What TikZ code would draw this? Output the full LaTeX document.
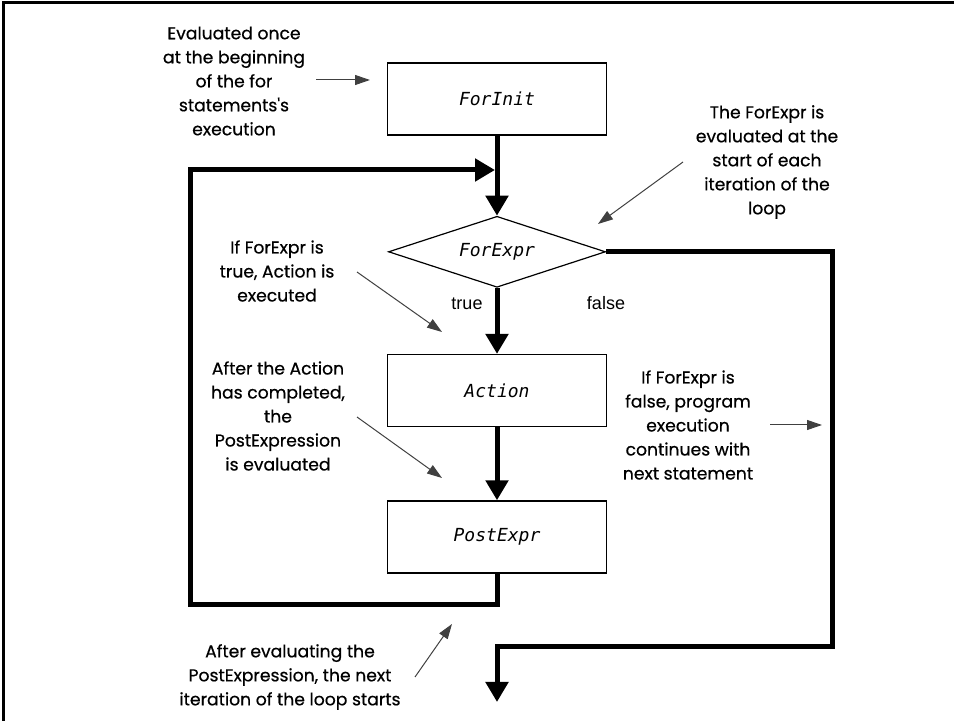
\documentclass[tikz,border=0pt]{standalone}
\usepackage{fontspec}
\usepackage{tikz}
\usetikzlibrary{positioning,arrows.meta,shapes.geometric,calc}
\newfontfamily\notefont{Poppins}[UprightFeatures={FakeBold=0.6}]
\newfontfamily\codefont{DejaVu Sans Mono}
\newfontfamily\labelfont{Liberation Sans}
\definecolor{notegray}{RGB}{64,64,64}

\begin{document}
\begin{tikzpicture}[x=0.5pt, y=-0.5pt,
  stage/.style={draw=black, line width=0.7pt, minimum width=109.5pt,
                minimum height=36pt, inner sep=0pt, font=\codefont\itshape\fontsize{9}{11}\selectfont},
  test/.style={diamond, draw=black, line width=0.6pt, aspect=3, minimum width=108.5pt,
               minimum height=35.5pt, inner sep=0pt, font=\codefont\itshape\fontsize{9}{11}\selectfont},
  note/.style={align=center, font=\notefont\fontsize{8.6}{12}\selectfont},
  flow/.style={-{Triangle[length=10pt, width=11pt]}, line width=2.5pt, black},
  hint/.style={-{Triangle[length=7.5pt, width=5pt]}, line width=0.5pt, notegray}]
  \useasboundingbox (0,0) rectangle (954,721);
  % frame
  \draw[line width=1.5pt] (3,721) -- (3,3) -- (954,3);

  % main column
  \node[stage] (init) at (497,99) {ForInit};
  \node[test, below=40pt of init] (expr) {ForExpr};
  \node[stage, below=33pt of expr] (action) {Action};
  \node[stage, below=36.5pt of action] (post) {PostExpr};

  \draw[flow] (init) -- (expr);
  \draw[flow] (expr) -- (action);
  \draw[flow] (action) -- (post);

  % loop back
  \coordinate (loopbl) at (190,605);
  \coordinate (looptl) at (190,170);
  \draw[flow, line join=miter] (post.south) |- (loopbl) |- ($(init.south |- looptl)+(-2,0)$);

  % exit
  \coordinate (outcorner) at (832,647);
  \coordinate (exit) at (497,702);
  \draw[flow, line join=miter] (expr.east) -| (outcorner) -| (exit);

  \node[font=\labelfont\fontsize{9}{11}\selectfont] (yes) at (467,304) {true};
  \node[font=\labelfont\fontsize{9}{11}\selectfont] (no) at (606,303) {false};

  % notes
  \node[note] (n1) at (234,81) {Evaluated once\\at the beginning\\of the for\\statements's\\execution};
  \node[note] (n2) at (767,162) {The ForExpr is\\evaluated at the\\start of each\\iteration of the\\loop};
  \node[note] (n3) at (277,271) {If ForExpr is\\true, Action is\\executed};
  \node[note] (n4) at (278,416) {After the Action\\has completed,\\the\\PostExpression\\is evaluated};
  \node[note] (n5) at (688,425) {If ForExpr is\\false, program\\execution\\continues with\\next statement};
  \node[note] (n6) at (290,677) {After evaluating the\\PostExpression, the next\\iteration of the loop starts};

  \coordinate (a1) at (316,80);  \coordinate (b1) at (370,80);
  \coordinate (a2) at (683,162); \coordinate (b2) at (598,224);
  \coordinate (a3) at (357,272); \coordinate (b3) at (442,332);
  \coordinate (a4) at (357,417); \coordinate (b4) at (442,478);
  \coordinate (a5) at (770,425); \coordinate (b5) at (822,425);
  \coordinate (a6) at (415,677); \coordinate (b6) at (452,624);
  \foreach \i in {1,...,6}
    \draw[hint] (a\i) -- (b\i);
\end{tikzpicture}
\end{document}
